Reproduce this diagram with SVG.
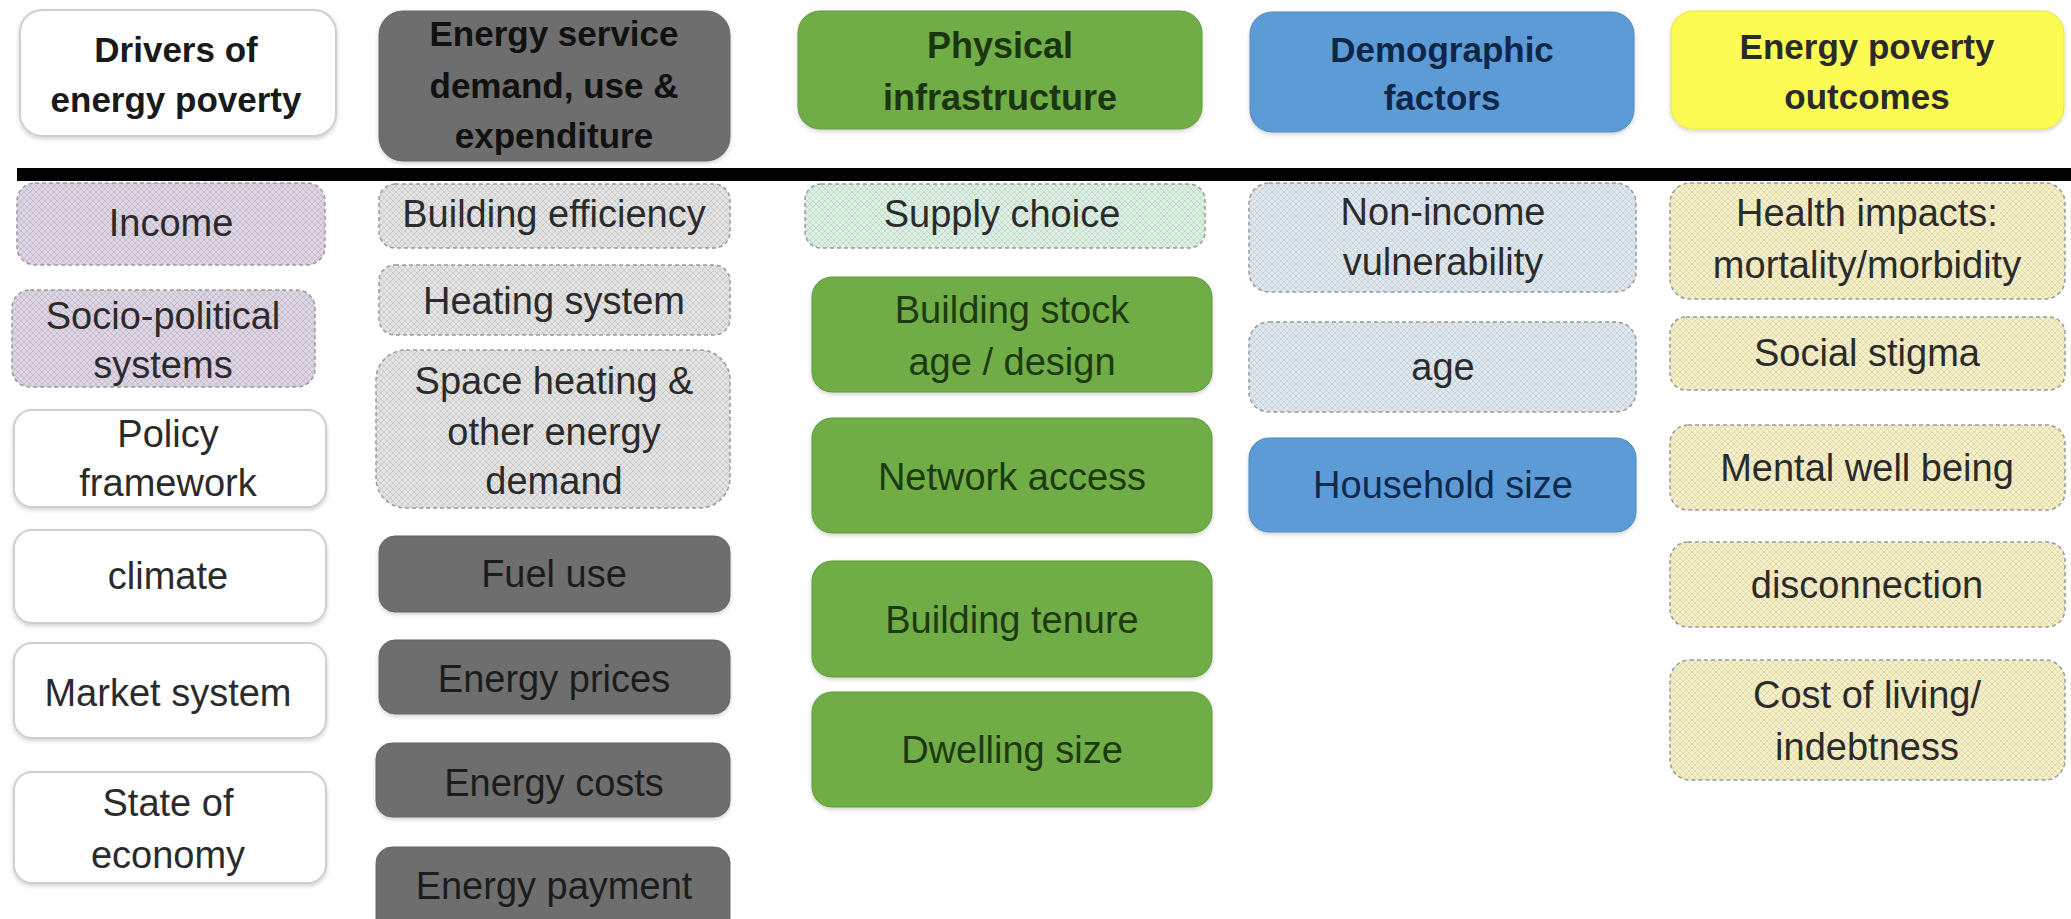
<svg xmlns="http://www.w3.org/2000/svg" width="2071" height="919" viewBox="0 0 2071 919">
<defs>
<filter id="sh" x="-5%" y="-5%" width="110%" height="120%"><feDropShadow dx="0" dy="2" stdDeviation="2" flood-color="#000" flood-opacity="0.18"/></filter>
<pattern id="pPur" width="6" height="6" patternUnits="userSpaceOnUse"><rect width="6" height="6" fill="#ddd5e4"/><path d="M0 0L6 6M6 0L0 6" stroke="#c4bacb" stroke-width="0.9"/></pattern>
<pattern id="pGry" width="6" height="6" patternUnits="userSpaceOnUse"><rect width="6" height="6" fill="#e3e3e3"/><path d="M0 0L6 6M6 0L0 6" stroke="#c9c9c9" stroke-width="0.9"/></pattern>
<pattern id="pGrn" width="6" height="6" patternUnits="userSpaceOnUse"><rect width="6" height="6" fill="#dcefe2"/><path d="M0 0L6 6M6 0L0 6" stroke="#c2dccb" stroke-width="0.9"/></pattern>
<pattern id="pBlu" width="6" height="6" patternUnits="userSpaceOnUse"><rect width="6" height="6" fill="#dfe7ee"/><path d="M0 0L6 6M6 0L0 6" stroke="#c6d1db" stroke-width="0.9"/></pattern>
<pattern id="pYel" width="6" height="6" patternUnits="userSpaceOnUse"><rect width="6" height="6" fill="#f4efc8"/><path d="M0 0L6 6M6 0L0 6" stroke="#e2dbac" stroke-width="0.9"/></pattern>
</defs>
<style>
text{font-family:"Liberation Sans",Arial,sans-serif;text-anchor:middle}
.h{font-size:35px;font-weight:bold}
.t{font-size:38px;fill:#2b2b2b}
.tg{font-size:38px;fill:#1d3a10}
.tb{font-size:38px;fill:#10294d}
.tk{font-size:38px;fill:#1c1c1c}
.wht{fill:#ffffff;stroke:#cfcfcf;stroke-width:2}
.dk{fill:#6e6e6e;stroke:#666;stroke-width:1}
.grn{fill:#70ad47;stroke:#5f9a3a;stroke-width:1}
.blu{fill:#5b9bd5;stroke:#4f8bc2;stroke-width:1}
.yel{fill:#fbfb52;stroke:#e6e63c;stroke-width:1}
.hp{stroke:#9a9a9a;stroke-width:1.5;stroke-dasharray:4 3}
</style>
<rect width="2071" height="919" fill="#ffffff"/>

<g id="connectors">
<rect x="17" y="168" width="2054" height="13" fill="#000"/>
</g>

<!-- headers -->
<g id="h-drivers"><rect class="wht" x="20" y="10" width="316" height="126" rx="22" filter="url(#sh)"/>
<text class="h" x="176" y="62" fill="#1a1a1a">Drivers of</text><text class="h" x="176" y="112" fill="#1a1a1a">energy poverty</text></g>
<g id="h-energy"><rect class="dk" x="379" y="11" width="351" height="150" rx="24" filter="url(#sh)"/>
<text class="h" x="554" y="46" fill="#111">Energy service</text><text class="h" x="554" y="98" fill="#111">demand, use &amp;</text><text class="h" x="554" y="148" fill="#111">expenditure</text></g>
<g id="h-physical"><rect class="grn" x="798" y="11" width="404" height="118" rx="22" filter="url(#sh)"/>
<text class="h" x="1000" y="58" fill="#1a3510" style="font-size:36px">Physical</text><text class="h" x="1000" y="110" fill="#1a3510" style="font-size:36px">infrastructure</text></g>
<g id="h-demo"><rect class="blu" x="1250" y="12" width="384" height="120" rx="22" filter="url(#sh)"/>
<text class="h" x="1442" y="62" fill="#0e2748">Demographic</text><text class="h" x="1442" y="110" fill="#0e2748">factors</text></g>
<g id="h-outcomes"><rect class="yel" x="1671" y="11" width="393" height="118" rx="22" filter="url(#sh)"/>
<text class="h" x="1867" y="59" fill="#2a2a2a">Energy poverty</text><text class="h" x="1867" y="109" fill="#2a2a2a">outcomes</text></g>

<!-- column 1 -->
<g id="income"><rect class="hp" fill="url(#pPur)" x="17" y="183" width="308" height="82" rx="18"/><text class="t" x="171" y="236">Income</text></g>
<g id="sociopolitical"><rect class="hp" fill="url(#pPur)" x="12" y="290" width="303" height="97" rx="18"/><text class="t" x="163" y="329">Socio-political</text><text class="t" x="163" y="378">systems</text></g>
<g id="policy"><rect class="wht" x="14" y="410" width="312" height="97" rx="18" filter="url(#sh)"/><text class="t" x="168" y="447">Policy</text><text class="t" x="168" y="496">framework</text></g>
<g id="climate"><rect class="wht" x="14" y="530" width="312" height="93" rx="18" filter="url(#sh)"/><text class="t" x="168" y="589">climate</text></g>
<g id="market"><rect class="wht" x="14" y="643" width="312" height="95" rx="18" filter="url(#sh)"/><text class="t" x="168" y="706">Market system</text></g>
<g id="economy"><rect class="wht" x="14" y="772" width="312" height="111" rx="18" filter="url(#sh)"/><text class="t" x="168" y="816">State of</text><text class="t" x="168" y="868">economy</text></g>

<!-- column 2 -->
<g id="bldeff"><rect class="hp" fill="url(#pGry)" x="379" y="184" width="351" height="64" rx="16"/><text class="t" x="554" y="227">Building efficiency</text></g>
<g id="heating"><rect class="hp" fill="url(#pGry)" x="379" y="265" width="351" height="70" rx="16"/><text class="t" x="554" y="314">Heating system</text></g>
<g id="spaceheat"><rect class="hp" fill="url(#pGry)" x="376" y="350" width="354" height="158" rx="30"/><text class="t" x="554" y="394">Space heating &amp;</text><text class="t" x="554" y="445">other energy</text><text class="t" x="554" y="494">demand</text></g>
<g id="fuel"><rect class="dk" x="379" y="536" width="351" height="76" rx="16" filter="url(#sh)"/><text class="tk" x="554" y="587">Fuel use</text></g>
<g id="prices"><rect class="dk" x="379" y="640" width="351" height="74" rx="16" filter="url(#sh)"/><text class="tk" x="554" y="692">Energy prices</text></g>
<g id="costs"><rect class="dk" x="376" y="743" width="354" height="74" rx="16" filter="url(#sh)"/><text class="tk" x="554" y="796">Energy costs</text></g>
<g id="payment"><rect class="dk" x="376" y="847" width="354" height="90" rx="16"/><text class="tk" x="554" y="899">Energy payment</text></g>

<!-- column 3 -->
<g id="supply"><rect class="hp" fill="url(#pGrn)" x="805" y="184" width="400" height="64" rx="16"/><text class="t" x="1002" y="227">Supply choice</text></g>
<g id="stock"><rect class="grn" x="812" y="277" width="400" height="115" rx="20" filter="url(#sh)"/><text class="tg" x="1012" y="323">Building stock</text><text class="tg" x="1012" y="375">age / design</text></g>
<g id="network"><rect class="grn" x="812" y="418" width="400" height="115" rx="20" filter="url(#sh)"/><text class="tg" x="1012" y="490">Network access</text></g>
<g id="tenure"><rect class="grn" x="812" y="561" width="400" height="116" rx="20" filter="url(#sh)"/><text class="tg" x="1012" y="633">Building tenure</text></g>
<g id="dwelling"><rect class="grn" x="812" y="692" width="400" height="115" rx="20" filter="url(#sh)"/><text class="tg" x="1012" y="763">Dwelling size</text></g>

<!-- column 4 -->
<g id="nonincome"><rect class="hp" fill="url(#pBlu)" x="1249" y="183" width="387" height="109" rx="20"/><text class="t" x="1443" y="225">Non-income</text><text class="t" x="1443" y="275">vulnerability</text></g>
<g id="age"><rect class="hp" fill="url(#pBlu)" x="1249" y="322" width="387" height="90" rx="20"/><text class="t" x="1443" y="380">age</text></g>
<g id="household"><rect class="blu" x="1249" y="438" width="387" height="94" rx="20" filter="url(#sh)"/><text class="tb" x="1443" y="498">Household size</text></g>

<!-- column 5 -->
<g id="health"><rect class="hp" fill="url(#pYel)" x="1670" y="183" width="395" height="116" rx="20"/><text class="t" x="1867" y="226">Health impacts:</text><text class="t" x="1867" y="278">mortality/morbidity</text></g>
<g id="stigma"><rect class="hp" fill="url(#pYel)" x="1670" y="317" width="395" height="73" rx="16"/><text class="t" x="1867" y="366">Social stigma</text></g>
<g id="mental"><rect class="hp" fill="url(#pYel)" x="1670" y="425" width="395" height="85" rx="18"/><text class="t" x="1867" y="481">Mental well being</text></g>
<g id="disconnection"><rect class="hp" fill="url(#pYel)" x="1670" y="542" width="395" height="85" rx="18"/><text class="t" x="1867" y="598">disconnection</text></g>
<g id="costliving"><rect class="hp" fill="url(#pYel)" x="1670" y="660" width="395" height="120" rx="20"/><text class="t" x="1867" y="708">Cost of living/</text><text class="t" x="1867" y="760">indebtness</text></g>
</svg>
